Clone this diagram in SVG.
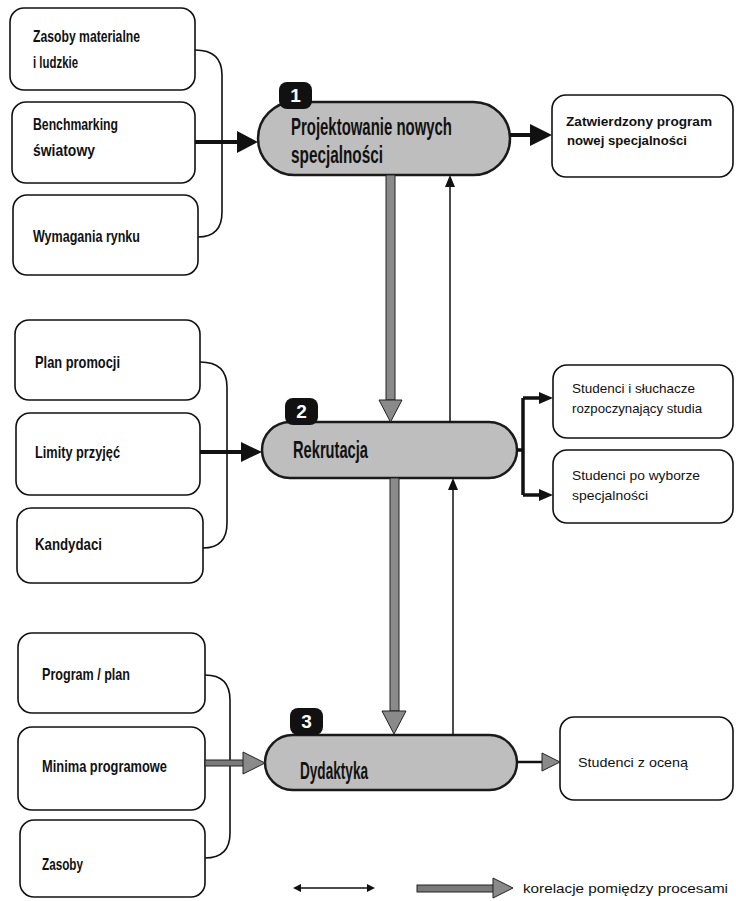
<svg xmlns="http://www.w3.org/2000/svg" width="736" height="901" viewBox="0 0 736 901">
<style>
.box{fill:#fff;stroke:#111;stroke-width:1.6}
.pill{fill:#bebebe;stroke:#1a1a1a;stroke-width:2.5}
.badge{fill:#111}
.num{font-family:"Liberation Sans",Arial,sans-serif;font-weight:bold;font-size:19px;fill:#fff;text-anchor:middle}
.lbl{font-family:"Liberation Sans Narrow","Liberation Sans",Arial,sans-serif;font-weight:bold;font-size:17px;fill:#111}
.plbl{font-family:"Liberation Sans Narrow","Liberation Sans",Arial,sans-serif;font-weight:bold;font-size:23px;fill:#111}
.olbl{font-family:"Liberation Sans",Arial,sans-serif;font-size:13px;fill:#111}
.br{fill:none;stroke:#111;stroke-width:1.6}
.blk{stroke:#111;stroke-width:4;fill:none}
.thin{stroke:#111;stroke-width:1.5;fill:none}
.head{fill:#111}
.ghead{fill:#8a8a8a;stroke:#222;stroke-width:1}
</style>

<g id="in1a"><rect class="box" x="10" y="8" width="185" height="82" rx="14"/><text class="lbl" x="33" y="42" textLength="107" lengthAdjust="spacingAndGlyphs">Zasoby materialne</text><text class="lbl" x="33" y="68" textLength="45" lengthAdjust="spacingAndGlyphs">i ludzkie</text></g>
<g id="in1b"><rect class="box" x="12" y="102" width="183" height="81" rx="14"/><text class="lbl" x="33" y="130" textLength="85" lengthAdjust="spacingAndGlyphs">Benchmarking</text><text class="lbl" x="33" y="156" textLength="62" lengthAdjust="spacingAndGlyphs">światowy</text></g>
<g id="in1c"><rect class="box" x="13" y="195" width="185" height="80" rx="14"/><text class="lbl" x="33" y="242" textLength="107" lengthAdjust="spacingAndGlyphs">Wymagania rynku</text></g>

<g id="in2a"><rect class="box" x="15" y="320" width="185" height="80" rx="14"/><text class="lbl" x="35" y="368" textLength="85" lengthAdjust="spacingAndGlyphs">Plan promocji</text></g>
<g id="in2b"><rect class="box" x="16" y="413" width="184" height="82" rx="14"/><text class="lbl" x="35" y="458" textLength="85" lengthAdjust="spacingAndGlyphs">Limity przyjęć</text></g>
<g id="in2c"><rect class="box" x="17" y="508" width="186" height="75" rx="14"/><text class="lbl" x="35" y="550" textLength="67" lengthAdjust="spacingAndGlyphs">Kandydaci</text></g>

<g id="in3a"><rect class="box" x="18" y="633" width="187" height="80" rx="14"/><text class="lbl" x="42" y="680" textLength="88" lengthAdjust="spacingAndGlyphs">Program / plan</text></g>
<g id="in3b"><rect class="box" x="18" y="727" width="187" height="83" rx="14"/><text class="lbl" x="42" y="772" textLength="125" lengthAdjust="spacingAndGlyphs">Minima programowe</text></g>
<g id="in3c"><rect class="box" x="20" y="820" width="185" height="77" rx="14"/><text class="lbl" x="42" y="870" textLength="41" lengthAdjust="spacingAndGlyphs">Zasoby</text></g>

<g id="p1"><rect class="pill" x="258" y="102" width="252" height="73" rx="36.5"/><rect class="badge" x="279" y="82" width="33" height="27" rx="8"/><text class="num" x="295.5" y="102">1</text><text class="plbl" x="291" y="135" textLength="161" lengthAdjust="spacingAndGlyphs">Projektowanie nowych</text><text class="plbl" x="291" y="163" textLength="92" lengthAdjust="spacingAndGlyphs">specjalności</text></g>
<g id="p2"><rect class="pill" x="262" y="422" width="255" height="56" rx="28"/><rect class="badge" x="285" y="398" width="33" height="27" rx="8"/><text class="num" x="301.5" y="418">2</text><text class="plbl" x="293" y="458" textLength="75" lengthAdjust="spacingAndGlyphs">Rekrutacja</text></g>
<g id="p3"><rect class="pill" x="265" y="735" width="252" height="55" rx="27.5"/><rect class="badge" x="290" y="708" width="33" height="27" rx="8"/><text class="num" x="306.5" y="728">3</text><text class="plbl" x="300" y="779" textLength="68" lengthAdjust="spacingAndGlyphs">Dydaktyka</text></g>

<g id="o1"><rect class="box" x="552" y="95" width="181" height="82" rx="14"/><text class="olbl" x="566" y="126" font-weight="bold" textLength="146" lengthAdjust="spacingAndGlyphs">Zatwierdzony program</text><text class="olbl" x="567" y="145" font-weight="bold" textLength="120" lengthAdjust="spacingAndGlyphs">nowej specjalności</text></g>
<g id="o2"><rect class="box" x="553" y="365" width="180" height="73" rx="14"/><text class="olbl" x="572" y="393" textLength="123" lengthAdjust="spacingAndGlyphs">Studenci i słuchacze</text><text class="olbl" x="572" y="413" textLength="130" lengthAdjust="spacingAndGlyphs">rozpoczynający studia</text></g>
<g id="o3"><rect class="box" x="553" y="450" width="180" height="73" rx="14"/><text class="olbl" x="572" y="480" textLength="128" lengthAdjust="spacingAndGlyphs">Studenci po wyborze</text><text class="olbl" x="572" y="500" textLength="76" lengthAdjust="spacingAndGlyphs">specjalności</text></g>
<g id="o4"><rect class="box" x="560" y="717" width="173" height="83" rx="14"/><text class="olbl" x="578" y="767" textLength="110" lengthAdjust="spacingAndGlyphs">Studenci z oceną</text></g>

<g id="connectors">
<path class="br" d="M195,50 Q222,50 222,75 L222,212 Q222,237 198,237"/>
<path class="br" d="M200,362 Q227,362 227,387 L227,523 Q227,548 203,548"/>
<path class="br" d="M205,675 Q230,675 230,700 L230,833 Q230,858 205,858"/>
<line class="blk" x1="195" y1="142" x2="240" y2="142"/><polygon class="head" points="237,131 258,142 237,153"/>
<line class="blk" x1="200" y1="452" x2="244" y2="452"/><polygon class="head" points="241,442 262,452 241,462"/>
<rect x="205" y="760" width="40" height="6" fill="#7a7a7a" stroke="#222" stroke-width="1"/><polygon class="ghead" points="243,752 265,763 243,774"/>
<rect x="386" y="175" width="9" height="225" fill="#8a8a8a" stroke="#222" stroke-width="1"/><polygon class="ghead" points="379,400 402,400 390.5,422"/>
<rect x="390" y="478" width="9" height="233" fill="#8a8a8a" stroke="#222" stroke-width="1"/><polygon class="ghead" points="382,711 406,711 394,734"/>
<line class="thin" x1="450" y1="422" x2="450" y2="185"/><polygon class="head" points="445,187 450,175 455,187"/>
<line class="thin" x1="453" y1="735" x2="453" y2="489"/><polygon class="head" points="448,490 453,478 458,490"/>
<line class="blk" x1="510" y1="135" x2="533" y2="135"/><polygon class="head" points="530,124 552,135 530,146"/>
<path d="M517,450 L523,450 M523,398 L523,495 M523,398 L541,398 M523,495 L541,495" stroke="#111" stroke-width="3.5" fill="none"/>
<polygon class="head" points="539,392 553,398 539,404"/><polygon class="head" points="539,489 553,495 539,501"/>
<line x1="517" y1="762" x2="545" y2="762" stroke="#111" stroke-width="2.5"/><polygon class="ghead" points="542,753 560,762 542,771"/>
</g>

<g id="legend">
<line class="thin" x1="300" y1="888" x2="368" y2="888"/><polygon class="head" points="301,884 293,888 301,892"/><polygon class="head" points="367,884 375,888 367,892"/>
<rect x="417" y="885" width="78" height="7" fill="#7a7a7a" stroke="#222" stroke-width="1"/><polygon class="ghead" points="493,878 513,888 493,898"/>
<text class="olbl" x="523" y="893" font-size="14" textLength="205" lengthAdjust="spacingAndGlyphs">korelacje pomiędzy procesami</text>
</g>
</svg>
